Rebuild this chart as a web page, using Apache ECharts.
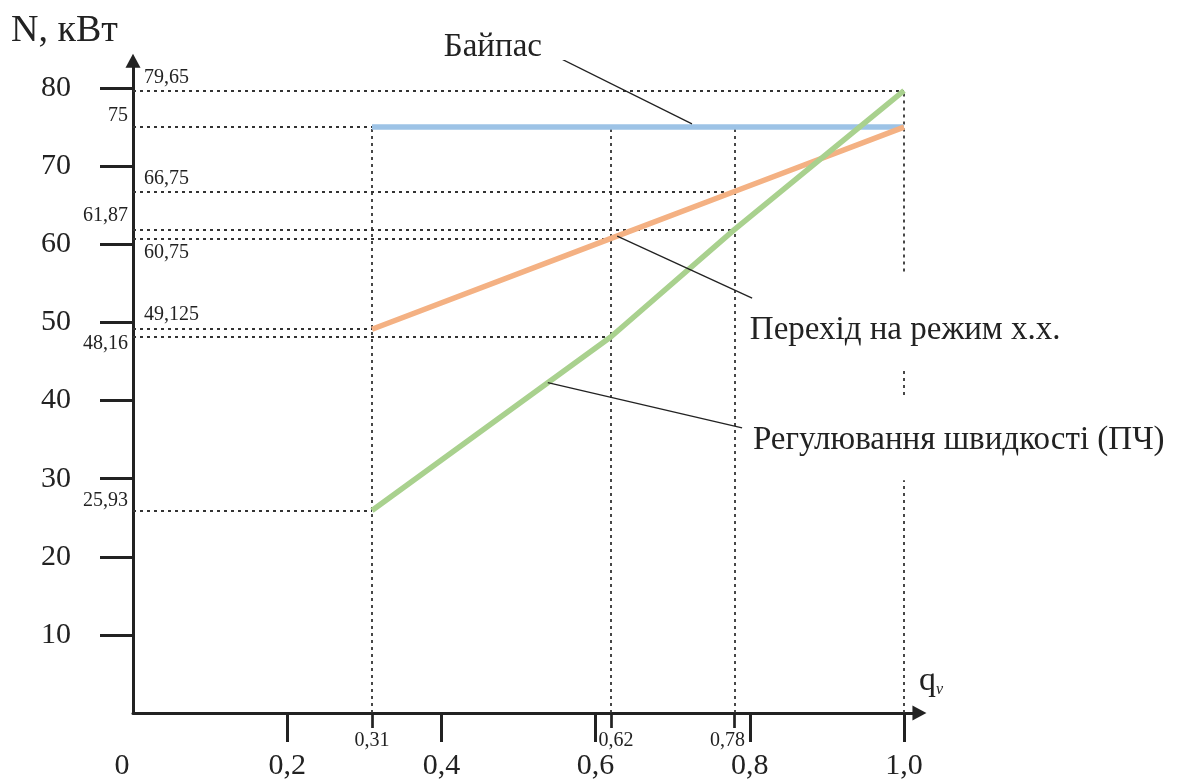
<!DOCTYPE html>
<html><head><meta charset="utf-8">
<script src="https://cdn.jsdelivr.net/npm/echarts@6/dist/echarts.min.js"></script>
<style>html,body{margin:0;padding:0;background:#fff}#c{width:1181px;height:781px}</style>
</head><body><div id="c"></div>
<script>
// ---- data ----
const qPoints   = [0.31, 0.62, 0.78, 1.0];
const bypass    = [75, 75, 75, 75];
const idleMode  = [49.125, 60.75, 66.75, 75];
const speedCtrl = [25.93, 48.16, 61.87, 79.65];
const seriesNames = ['Байпас', 'Перехід на режим х.х.', 'Регулювання швидкості (ПЧ)'];
const xMajorTicks  = [0.2, 0.4, 0.6, 0.8, 1.0];
const xMajorLabels = [0, 0.2, 0.4, 0.6, 0.8, 1.0];
const xMinorValues = [0.31, 0.62, 0.78];
const yMajorTicks  = [10, 20, 30, 40, 50, 60, 70, 80];
const yLeftValues   = [75, 61.87, 48.16, 25.93];
const yInsideValues = [79.65, 66.75, 60.75, 49.125];
const yTitle = 'N, кВт';

// ---- layout / style ----
const FONT = "'Liberation Serif','Times New Roman',serif";
const INK = '#222';
const xMax = 1.02, yMax = 83.5;
const colors = ['#9DC3E6', '#F4B183', '#A9D18E'];
const xMajorShift = [{dx:-11,dy:0},{dx:0,dy:0},{dx:0,dy:0},{dx:0,dy:0},{dx:0,dy:0},{dx:0,dy:0}];
const xMinorShift = [{dx:0,dy:0},{dx:5,dy:0},{dx:-7,dy:0}];
const yLeftShift   = [{dx:0,dy:-11},{dx:0,dy:-14},{dx:0,dy:7},{dx:0,dy:-10}];
const yInsideShift = [{dx:0,dy:-13},{dx:0,dy:-13},{dx:0,dy:14},{dx:0,dy:-14}];
// gaps in the q=1.0 guide where the captions cross it
const guideGaps = {'1': [[29.8, 40.7], [44.2, 56.5]]};
// captions and leader lines (data coordinates)
const captions = [
  {at: [0.403, 85.25], from: [0.556, 83.7], to: [0.725, 75.4]},
  {at: [0.800, 49.0],  from: [0.628, 61.05], to: [0.803, 53.1]},
  {at: [0.804, 34.9],  from: [0.538, 42.3], to: [0.790, 36.5]}
];

function makeRich(shifts, base) {
  const rich = {};
  shifts.forEach((s, i) => {
    const p = [0, 0, 0, 0];
    if (s.dy < 0) p[2] = -2 * s.dy; else p[0] = 2 * s.dy;
    if (s.dx < 0) p[1] = -2 * s.dx; else p[3] = 2 * s.dx;
    rich['s' + i] = Object.assign({padding: p}, base);
  });
  return rich;
}
function idx(arr, v) { return arr.findIndex(a => Math.abs(a - v) < 1e-6); }
const comma = s => String(s).replace('.', ',');

// guides
const allSeries = [bypass, idleMode, speedCtrl];
const hMap = {};
allSeries.forEach(s => s.forEach((v, i) => {
  const q = qPoints[i];
  if (hMap[v] === undefined || q < hMap[v]) hMap[v] = q;
}));
const guideData = [];
Object.keys(hMap).forEach(v => guideData.push({coords: [[0, +v], [hMap[v], +v]]}));
qPoints.forEach((q, i) => {
  const top = Math.max(bypass[i], idleMode[i], speedCtrl[i]);
  const gaps = guideGaps[String(q)] || [];
  let start = 0;
  gaps.forEach(g => { guideData.push({coords: [[q, start], [q, g[0]]]}); start = g[1]; });
  guideData.push({coords: [[q, start], [q, top]]});
});

const small = {fontSize: 20, fontFamily: FONT, color: INK};
const big = {fontSize: 30, fontFamily: FONT, color: INK};
const toPairs = s => qPoints.map((q, i) => [q, s[i]]);

const option = {
  animation: false,
  backgroundColor: '#fff',
  title: [
    {text: yTitle, left: 11, top: 12, padding: 0,
     textStyle: {fontSize: 38, fontWeight: 'normal', fontFamily: FONT, color: INK}},
    {text: '{q|q}{v|v}', left: 919, top: 664, padding: 0,
     textStyle: {fontWeight: 'normal', rich: {
       q: {fontSize: 34, fontWeight: 'normal', fontFamily: FONT, color: INK},
       v: {fontSize: 16, fontWeight: 'normal', fontStyle: 'italic', fontFamily: FONT, color: INK, verticalAlign: 'bottom'}
     }}}
  ],
  grid: {left: 133, top: 713 - yMax * 7.8125, width: xMax * 771, height: yMax * 7.8125,
         containLabel: false, outerBoundsMode: 'none'},
  xAxis: [
    {type: 'value', min: 0, max: xMax, position: 'bottom', offset: 0,
     axisLine: {show: true, onZero: false, symbol: ['none', 'triangle'], symbolSize: [15, 14],
                lineStyle: {color: INK, width: 3}},
     axisTick: {show: true, customValues: xMajorTicks, length: 29, lineStyle: {color: INK, width: 3}},
     axisLabel: {customValues: xMajorLabels, margin: 38, fontSize: 30, fontFamily: FONT, color: INK,
                 formatter: v => { const i = idx(xMajorLabels, v); return '{s' + i + '|' + (v === 0 ? '0' : comma(v.toFixed(1))) + '}'; },
                 rich: makeRich(xMajorShift, big)},
     splitLine: {show: false}},
    {type: 'value', min: 0, max: xMax, position: 'bottom', offset: 0,
     axisLine: {show: false},
     axisTick: {show: true, customValues: xMinorValues, length: 15, lineStyle: {color: INK, width: 2.7}},
     axisLabel: {customValues: xMinorValues, margin: 18, fontSize: 20, fontFamily: FONT, color: INK,
                 formatter: v => '{s' + idx(xMinorValues, v) + '|' + comma(v) + '}',
                 rich: makeRich(xMinorShift, small)},
     splitLine: {show: false}}
  ],
  yAxis: [
    {type: 'value', min: 0, max: yMax, position: 'left', offset: 0,
     axisLine: {show: true, onZero: false, symbol: ['none', 'triangle'], symbolSize: [15, 14],
                lineStyle: {color: INK, width: 3}},
     axisTick: {show: true, customValues: yMajorTicks, length: 33, lineStyle: {color: INK, width: 3}},
     axisLabel: {customValues: yMajorTicks, margin: 62, fontSize: 30, fontFamily: FONT, color: INK},
     splitLine: {show: false}},
    {type: 'value', min: 0, max: yMax, position: 'left', offset: 0,
     axisLine: {show: false}, axisTick: {show: false},
     axisLabel: {customValues: yLeftValues, margin: 5, fontSize: 20, fontFamily: FONT, color: INK,
                 formatter: v => '{s' + idx(yLeftValues, v) + '|' + comma(v) + '}',
                 rich: makeRich(yLeftShift, small)},
     splitLine: {show: false}},
    {type: 'value', min: 0, max: yMax, position: 'left', offset: 0,
     axisLine: {show: false}, axisTick: {show: false},
     axisLabel: {inside: true, customValues: yInsideValues, margin: 11, fontSize: 20, fontFamily: FONT, color: INK,
                 formatter: v => '{s' + idx(yInsideValues, v) + '|' + comma(v) + '}',
                 rich: makeRich(yInsideShift, small)},
     splitLine: {show: false}}
  ],
  series: [
    {type: 'lines', coordinateSystem: 'cartesian2d', xAxisIndex: 0, yAxisIndex: 0, silent: true, z: 1,
     lineStyle: {color: '#333', width: 1.8, type: [3, 4], opacity: 1}, data: guideData},
    {type: 'lines', coordinateSystem: 'cartesian2d', xAxisIndex: 0, yAxisIndex: 0, silent: true, z: 5,
     lineStyle: {color: INK, width: 1.3, type: 'solid', opacity: 1},
     data: captions.map(c => ({coords: [c.from, c.to]}))},
    {name: seriesNames[0], type: 'line', data: toPairs(bypass), showSymbol: false, z: 3,
     lineStyle: {color: colors[0], width: 5.5}, itemStyle: {color: colors[0]}},
    {name: seriesNames[1], type: 'line', data: toPairs(idleMode), showSymbol: false, z: 3,
     lineStyle: {color: colors[1], width: 5.5}, itemStyle: {color: colors[1]}},
    {name: seriesNames[2], type: 'line', data: toPairs(speedCtrl), showSymbol: false, z: 4,
     lineStyle: {color: colors[2], width: 5.5}, itemStyle: {color: colors[2]}},
    {type: 'scatter', clip: false, symbolSize: 0, silent: true, z: 6,
     itemStyle: {opacity: 1},
     data: captions.map((c, i) => ({value: c.at, name: seriesNames[i]})),
     label: {show: true, position: 'right', distance: 0, formatter: p => p.name,
             fontSize: 33, fontFamily: FONT, color: INK, opacity: 1}}
  ]
};
echarts.init(document.getElementById('c'), null, {renderer: 'canvas'}).setOption(option);
</script></body></html>
